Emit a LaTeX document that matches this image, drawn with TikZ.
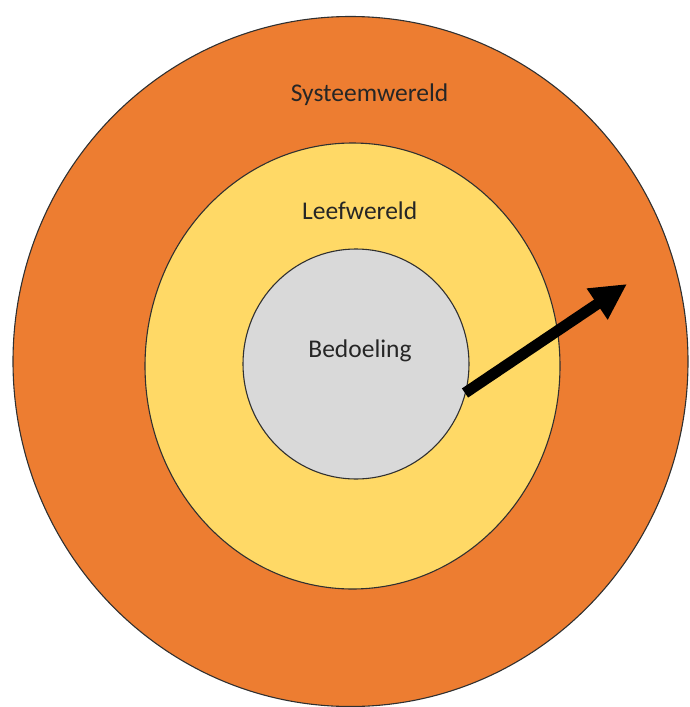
\documentclass[tikz,border=0pt]{standalone}
\usepackage{fontspec}
\setmainfont{Carlito}
\usetikzlibrary{shapes.geometric,arrows.meta}
\definecolor{sysorange}{HTML}{ED7D31}
\definecolor{leefyellow}{HTML}{FFD966}
\definecolor{bedgray}{HTML}{D9D9D9}
\definecolor{rimgray}{HTML}{303030}
\tikzset{
  ring/.style={ellipse, draw=rimgray, line width=1.1pt, inner sep=0pt},
  lbl/.style={anchor=base, inner sep=0pt, text=black!85, font=\fontsize{25.5}{30}\selectfont},
  bigarrow/.style={line width=11pt, -{Triangle[length=36pt,width=35pt]}}
}
\begin{document}
\begin{tikzpicture}[x=1pt,y=-1pt]
\useasboundingbox (0,0) rectangle (689,707);
\node[ring, fill=sysorange, minimum width=675, minimum height=690] (outer) at (350.5,361.5) {};
\node[ring, fill=leefyellow, minimum width=415, minimum height=446] (middle) at (352.5,366) {};
\node[ring, fill=bedgray, minimum width=226, minimum height=230] (inner) at (356,364) {};
\node[lbl] (sys) at (369.5,101) {Systeemwereld};
\node[lbl] (leef) at (359.7,219) {Leefwereld};
\node[lbl] (bed) at (360,357) {Bedoeling};
\coordinate (tail) at (465,393);
\coordinate (tip) at (627,284);
\draw[bigarrow] (tail) -- (tip);
\end{tikzpicture}
\end{document}
